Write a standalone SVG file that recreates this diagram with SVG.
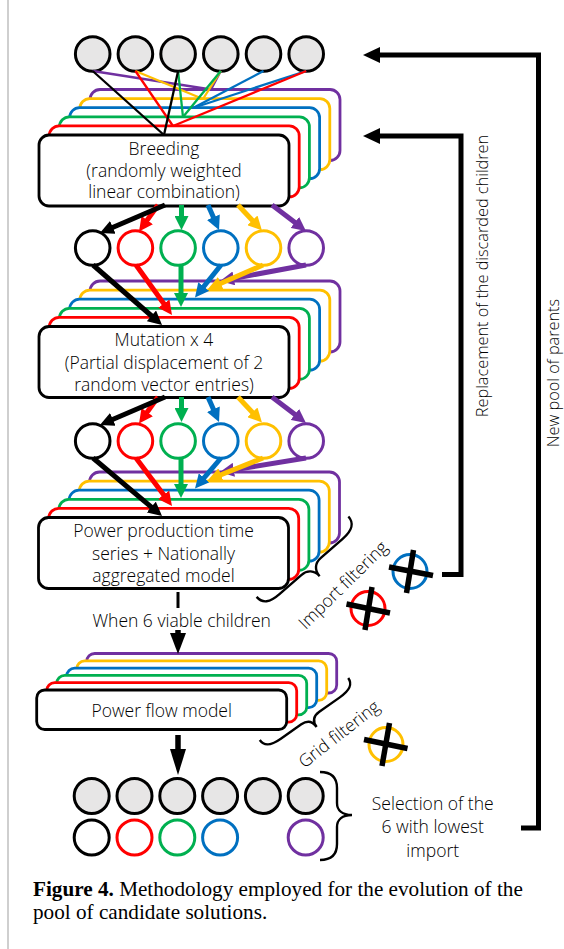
<svg xmlns="http://www.w3.org/2000/svg" width="564" height="949" viewBox="0 0 564 949">
<style>
.bx{fill:#fff;stroke-width:2.8}
.k{stroke:#000}.r{stroke:#FF0000}.g{stroke:#00B050}.b{stroke:#0070C0}.y{stroke:#FFC000}.p{stroke:#7030A0}
.par{fill:#E7E6E6;stroke:#000;stroke-width:3}
.ch{fill:#fff;stroke-width:3}
.thin{stroke-width:2.3;fill:none}
.arr{stroke-width:5;fill:none}
.lbl{font-family:"Open Sans","Liberation Sans",sans-serif;font-size:17.5px;font-weight:300;fill:#000;text-anchor:middle}
.vlbl{font-size:16.3px}
.cap{font-family:"Liberation Serif",serif;font-size:21.2px;fill:#000}
.brace{fill:none;stroke:#000;stroke-width:2.4}
.xline{stroke:#000;stroke-width:5.5}
</style>
<defs>
<marker id="mk-k" viewBox="0 0 14 14" refX="6" refY="7" markerWidth="14" markerHeight="14" markerUnits="userSpaceOnUse" orient="auto"><path d="M0,0 L14,7 L0,14 z" fill="#000"/></marker>
<marker id="mk-r" viewBox="0 0 14 14" refX="6" refY="7" markerWidth="14" markerHeight="14" markerUnits="userSpaceOnUse" orient="auto"><path d="M0,0 L14,7 L0,14 z" fill="#FF0000"/></marker>
<marker id="mk-g" viewBox="0 0 14 14" refX="6" refY="7" markerWidth="14" markerHeight="14" markerUnits="userSpaceOnUse" orient="auto"><path d="M0,0 L14,7 L0,14 z" fill="#00B050"/></marker>
<marker id="mk-b" viewBox="0 0 14 14" refX="6" refY="7" markerWidth="14" markerHeight="14" markerUnits="userSpaceOnUse" orient="auto"><path d="M0,0 L14,7 L0,14 z" fill="#0070C0"/></marker>
<marker id="mk-y" viewBox="0 0 14 14" refX="6" refY="7" markerWidth="14" markerHeight="14" markerUnits="userSpaceOnUse" orient="auto"><path d="M0,0 L14,7 L0,14 z" fill="#FFC000"/></marker>
<marker id="mk-p" viewBox="0 0 14 14" refX="6" refY="7" markerWidth="14" markerHeight="14" markerUnits="userSpaceOnUse" orient="auto"><path d="M0,0 L14,7 L0,14 z" fill="#7030A0"/></marker>
<marker id="mk-big" viewBox="0 0 17 16" refX="7" refY="8" markerWidth="17" markerHeight="16" markerUnits="userSpaceOnUse" orient="auto"><path d="M0,0 L17,8 L0,16 z" fill="#000"/></marker>
</defs>
<rect x="0" y="0" width="564" height="949" fill="#fff"/>
<line x1="8" y1="0" x2="8" y2="949" stroke="#cfcfcf" stroke-width="2"/>

<g id="parents">
<circle class="par" cx="92.7" cy="54" r="17.3"/>
<circle class="par" cx="135.4" cy="54" r="17.3"/>
<circle class="par" cx="178.1" cy="54" r="17.3"/>
<circle class="par" cx="220.8" cy="54" r="17.3"/>
<circle class="par" cx="263.5" cy="54" r="17.3"/>
<circle class="par" cx="306.2" cy="54" r="17.3"/>
</g>

<g id="breeding">
<rect class="bx p" x="90" y="89.5" width="250" height="71" rx="10"/>
<rect class="bx y" x="79.8" y="98.6" width="250" height="71" rx="10"/>
<rect class="bx b" x="69.6" y="107.7" width="250" height="71" rx="10"/>
<rect class="bx g" x="59.4" y="116.8" width="250" height="71" rx="10"/>
<rect class="bx r" x="49.2" y="125.9" width="250" height="71" rx="10"/>
<rect class="bx k" x="39" y="135" width="250" height="71" rx="10"/>
<text class="lbl" x="164" y="155">Breeding</text>
<text class="lbl" x="164" y="176.7">(randomly weighted</text>
<text class="lbl" x="164" y="198.3">linear combination)</text>
</g>

<g id="children1">
<circle class="ch k" cx="92.7" cy="248" r="17.3"/>
<circle class="ch r" cx="135.4" cy="248" r="17.3"/>
<circle class="ch g" cx="178.1" cy="248" r="17.3"/>
<circle class="ch b" cx="220.8" cy="248" r="17.3"/>
<circle class="ch y" cx="263.5" cy="248" r="17.3"/>
<circle class="ch p" cx="306.2" cy="248" r="17.3"/>
</g>

<g id="mutation">
<rect class="bx p" x="90" y="281" width="250" height="71" rx="10"/>
<rect class="bx y" x="79.8" y="290.1" width="250" height="71" rx="10"/>
<rect class="bx b" x="69.6" y="299.2" width="250" height="71" rx="10"/>
<rect class="bx g" x="59.4" y="308.3" width="250" height="71" rx="10"/>
<rect class="bx r" x="49.2" y="317.4" width="250" height="71" rx="10"/>
<rect class="bx k" x="39" y="326.5" width="250" height="71" rx="10"/>
<text class="lbl" x="164" y="345.5">Mutation x 4</text>
<text class="lbl" x="164" y="368.5">(Partial displacement of 2</text>
<text class="lbl" x="164" y="390.5">random vector entries)</text>
</g>

<g id="children2">
<circle class="ch k" cx="92.7" cy="441" r="17.3"/>
<circle class="ch r" cx="135.4" cy="441" r="17.3"/>
<circle class="ch g" cx="178.1" cy="441" r="17.3"/>
<circle class="ch b" cx="220.8" cy="441" r="17.3"/>
<circle class="ch y" cx="263.5" cy="441" r="17.3"/>
<circle class="ch p" cx="306.2" cy="441" r="17.3"/>
</g>

<g id="power-production">
<rect class="bx p" x="89.5" y="472" width="250" height="71" rx="10"/>
<rect class="bx y" x="79.3" y="481.1" width="250" height="71" rx="10"/>
<rect class="bx b" x="69.1" y="490.2" width="250" height="71" rx="10"/>
<rect class="bx g" x="58.9" y="499.3" width="250" height="71" rx="10"/>
<rect class="bx r" x="48.7" y="508.4" width="250" height="71" rx="10"/>
<rect class="bx k" x="38.5" y="517.5" width="250" height="71" rx="10"/>
<text class="lbl" x="163.5" y="537">Power production time</text>
<text class="lbl" x="163.5" y="559.5">series + Nationally</text>
<text class="lbl" x="163.5" y="582">aggregated model</text>
</g>

<g id="import-filtering">
<path class="brace" transform="translate(302.5,556.7) rotate(-41.2)" d="M-61,0 C-61,9 -55,13 -42,13 L-13,13 C-5,13 0,18 0,26 C0,18 5,13 13,13 L42,13 C55,13 61,9 61,0"/>
<text class="lbl" transform="translate(343,585) rotate(-44.5)" x="0" y="6">Import filtering</text>
<circle cx="410" cy="571.5" r="17" fill="none" stroke="#0070C0" stroke-width="3"/>
<line class="xline" x1="389" y1="567" x2="433" y2="575.5"/>
<line class="xline" x1="413.5" y1="550" x2="406.5" y2="593"/>
<circle cx="368" cy="608.5" r="17" fill="none" stroke="#FF0000" stroke-width="3"/>
<line class="xline" x1="346.5" y1="604" x2="390" y2="613"/>
<line class="xline" x1="372" y1="587" x2="365" y2="630"/>
</g>

<text id="when-label" class="lbl" x="181.7" y="627">When 6 viable children</text>

<g id="power-flow">
<rect class="bx p" x="86.7" y="653.5" width="250" height="39.5" rx="8"/>
<rect class="bx y" x="76.7" y="660.8" width="250" height="39.5" rx="8"/>
<rect class="bx b" x="66.7" y="668.1" width="250" height="39.5" rx="8"/>
<rect class="bx g" x="56.7" y="675.4" width="250" height="39.5" rx="8"/>
<rect class="bx r" x="46.7" y="682.7" width="250" height="39.5" rx="8"/>
<rect class="bx k" x="36.7" y="690" width="250" height="39.5" rx="8"/>
<text class="lbl" x="161.7" y="717.3">Power flow model</text>
</g>

<g id="grid-filtering">
<path class="brace" transform="translate(304,709) rotate(-35)" d="M-54,0 C-54,8 -48,11 -36,11 L-11,11 C-4,11 0,15 0,22 C0,15 4,11 11,11 L36,11 C48,11 54,8 54,0"/>
<text class="lbl" transform="translate(339,734) rotate(-38)" x="0" y="6">Grid filtering</text>
<circle cx="386" cy="744.5" r="17" fill="none" stroke="#FFC000" stroke-width="3"/>
<line class="xline" x1="364" y1="739.5" x2="407.5" y2="748.5"/>
<line class="xline" x1="389.5" y1="723" x2="382" y2="766"/>
</g>

<g id="new-pool">
<circle class="par" cx="91.7" cy="796" r="17.5"/>
<circle class="par" cx="134.5" cy="796" r="17.5"/>
<circle class="par" cx="177.3" cy="796" r="17.5"/>
<circle class="par" cx="220.1" cy="796" r="17.5"/>
<circle class="par" cx="262.9" cy="796" r="17.5"/>
<circle class="par" cx="305.7" cy="796" r="17.5"/>
<circle class="ch k" cx="91.7" cy="837.5" r="17.5"/>
<circle class="ch r" cx="134.5" cy="837.5" r="17.5"/>
<circle class="ch g" cx="177.3" cy="837.5" r="17.5"/>
<circle class="ch b" cx="220.1" cy="837.5" r="17.5"/>
<circle class="ch p" cx="305.7" cy="837.5" r="17.5"/>
<path class="brace" d="M320,772 C331,772 337,777 337,788 L337,803 C337,810 342,815 352,815 C342,815 337,820 337,827 L337,844 C337,855 331,860 320,860"/>
<text class="lbl" x="432.7" y="810">Selection of the</text>
<text class="lbl" x="432.7" y="833.3">6 with lowest</text>
<text class="lbl" x="432.7" y="856.7">import</text>
</g>

<g id="connectors">
<line class="thin p" x1="92.7" y1="71" x2="211" y2="89.5"/>
<line class="thin p" x1="220.8" y1="71" x2="211" y2="89.5"/>
<line class="thin y" x1="135.4" y1="71" x2="203" y2="99"/>
<line class="thin y" x1="220.8" y1="71" x2="203" y2="99"/>
<line class="thin b" x1="263.5" y1="71" x2="193" y2="108"/>
<line class="thin b" x1="306.2" y1="71" x2="193" y2="108"/>
<line class="thin g" x1="178.1" y1="71" x2="183" y2="117"/>
<line class="thin g" x1="220.8" y1="71" x2="183" y2="117"/>
<line class="thin r" x1="135.4" y1="71" x2="173" y2="126"/>
<line class="thin r" x1="306.2" y1="71" x2="173" y2="126"/>
<line class="thin k" x1="92.7" y1="71" x2="164" y2="135"/>
<line class="thin k" x1="178.1" y1="71" x2="164" y2="135"/>
<line class="arr p" x1="272" y1="205" x2="299.6" y2="226.1" marker-end="url(#mk-p)"/>
<line class="arr y" x1="238" y1="205" x2="256.5" y2="224.7" marker-end="url(#mk-y)"/>
<line class="arr b" x1="208" y1="205" x2="215.8" y2="222.7" marker-end="url(#mk-b)"/>
<line class="arr g" x1="181.5" y1="205" x2="181.5" y2="222" marker-end="url(#mk-g)"/>
<line class="arr r" x1="158" y1="205" x2="143.7" y2="225" marker-end="url(#mk-r)"/>
<line class="arr k" x1="165" y1="205" x2="107.3" y2="229.8" marker-end="url(#mk-k)"/>
<line class="arr p" x1="306" y1="265" x2="227.9" y2="279.5" marker-end="url(#mk-p)"/>
<line class="arr y" x1="263" y1="265" x2="215.3" y2="285.8" marker-end="url(#mk-y)"/>
<line class="arr b" x1="221" y1="265" x2="200" y2="291.25" marker-end="url(#mk-b)"/>
<line class="arr g" x1="181" y1="266" x2="181" y2="299" marker-end="url(#mk-g)"/>
<line class="arr r" x1="136" y1="265" x2="167.3" y2="308.5" marker-end="url(#mk-r)"/>
<line class="arr k" x1="93" y1="265" x2="156" y2="319.75" marker-end="url(#mk-k)"/>
<line class="arr p" x1="272" y1="397" x2="299.6" y2="418.1" marker-end="url(#mk-p)"/>
<line class="arr y" x1="238" y1="397" x2="256.5" y2="416.7" marker-end="url(#mk-y)"/>
<line class="arr b" x1="208" y1="397" x2="215.8" y2="414.7" marker-end="url(#mk-b)"/>
<line class="arr g" x1="181.5" y1="397" x2="181.5" y2="414" marker-end="url(#mk-g)"/>
<line class="arr r" x1="158" y1="397" x2="143.7" y2="417" marker-end="url(#mk-r)"/>
<line class="arr k" x1="165" y1="397" x2="107.3" y2="421.8" marker-end="url(#mk-k)"/>
<line class="arr p" x1="306" y1="458" x2="227.9" y2="470.7" marker-end="url(#mk-p)"/>
<line class="arr y" x1="263" y1="458" x2="215.4" y2="477" marker-end="url(#mk-y)"/>
<line class="arr b" x1="221" y1="458" x2="200.2" y2="482.4" marker-end="url(#mk-b)"/>
<line class="arr g" x1="181" y1="459" x2="181" y2="490" marker-end="url(#mk-g)"/>
<line class="arr r" x1="136" y1="458" x2="167.2" y2="499.6" marker-end="url(#mk-r)"/>
<line class="arr k" x1="93" y1="458" x2="155.9" y2="510.85" marker-end="url(#mk-k)"/>
<line x1="178" y1="592" x2="178" y2="608" stroke="#000" stroke-width="3"/>
<line x1="178" y1="630" x2="178" y2="636" stroke="#000" stroke-width="5.5"/>
<polygon points="170,633 186,633 178,654" fill="#000"/>
<line x1="178" y1="735" x2="178" y2="752" stroke="#000" stroke-width="5.5"/>
<polygon points="170,749 186,749 178,775" fill="#000"/>
<polyline class="arr k" points="442,574.5 461,574.5 461,136 373,136" marker-end="url(#mk-big)"/>
<polyline class="arr k" points="521,828 538.5,828 538.5,55 373,55" marker-end="url(#mk-big)"/>
</g>

<text class="lbl vlbl" transform="translate(482,276) rotate(-90)" x="0" y="6">Replacement of the discarded children</text>
<text class="lbl vlbl" transform="translate(553,373) rotate(-90)" x="0" y="6">New pool of parents</text>

<text class="cap" x="33" y="896"><tspan font-weight="bold">Figure 4.</tspan> Methodology employed for the evolution of the</text>
<text class="cap" x="33" y="919">pool of candidate solutions.</text>
</svg>
